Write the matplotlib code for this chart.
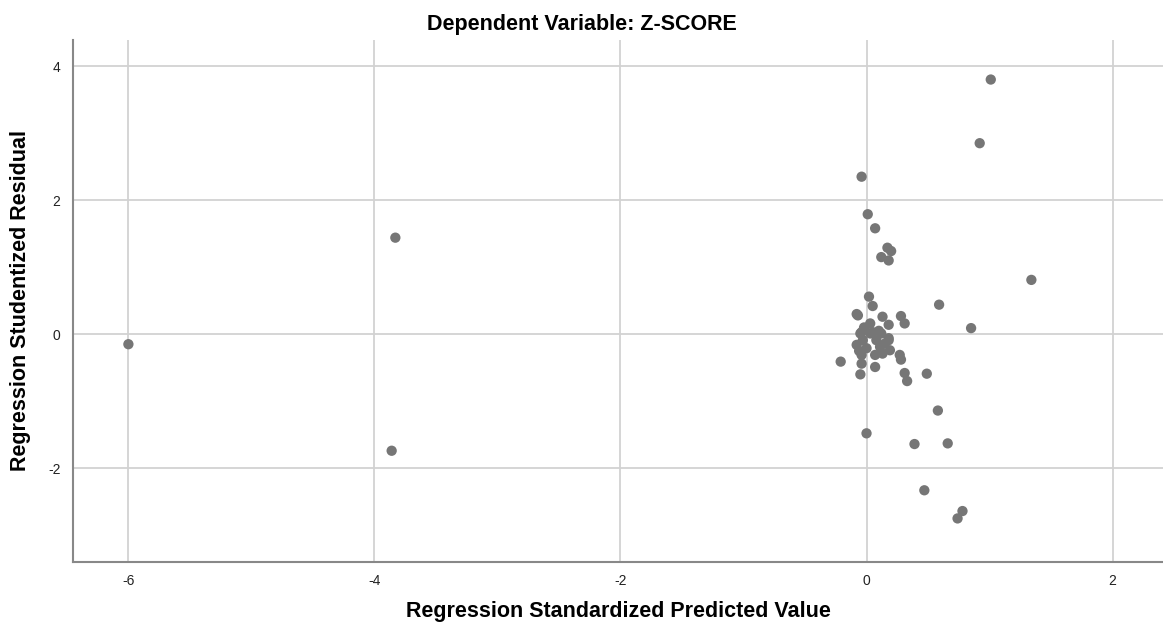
import matplotlib.pyplot as plt

plt.rcParams["font.family"] = ["Liberation Sans", "DejaVu Sans"]
plt.rcParams["axes.unicode_minus"] = False

# standardized predicted value (x) and studentized residual (y)
pred = [
    -6.00, -3.83, -3.86,
    1.01, 0.92, 1.34, 0.85, 0.59,
    -0.04, 0.01, 0.07, 0.17, 0.20, 0.12, 0.18,
    0.02, 0.05, -0.08, 0.13, 0.28, 0.31, 0.18,
    -0.21, -0.05, 0.07, 0.27, 0.28, 0.49, 0.31, 0.33,
    0.58, 0.00, 0.39, 0.66, 0.47, 0.78, 0.74,
    -0.07, 0.03, -0.04, 0.05, 0.12, -0.03, 0.08, 0.18,
    -0.08, 0.00, 0.11, 0.19, -0.04, 0.07, 0.13, -0.04,
    -0.05, 0.03, 0.18, -0.02, 0.10, 0.15, -0.06,
]
resid = [
    -0.15, 1.44, -1.74,
    3.80, 2.85, 0.81, 0.09, 0.44,
    2.35, 1.79, 1.58, 1.29, 1.24, 1.15, 1.10,
    0.56, 0.42, 0.30, 0.26, 0.27, 0.16, 0.14,
    -0.41, -0.60, -0.49, -0.31, -0.38, -0.59, -0.58, -0.70,
    -1.14, -1.48, -1.64, -1.63, -2.33, -2.64, -2.75,
    0.28, 0.16, 0.03, 0.03, 0.01, -0.09, -0.09, -0.06,
    -0.16, -0.21, -0.19, -0.24, -0.31, -0.31, -0.29, -0.44,
    0.01, 0.01, -0.09, 0.10, 0.05, -0.14, -0.25,
]

fig = plt.figure(figsize=(11.63, 6.33), dpi=100)
ax = fig.add_axes([0.0628, 0.1122, 0.9372, 0.8246])

ax.scatter(pred, resid, s=55, color="#767676", edgecolors="none", zorder=3)

ax.set_xlim(-6.45, 2.41)
ax.set_ylim(-3.40, 4.39)
ax.set_xticks([-6, -4, -2, 0, 2])
ax.set_yticks([-2, 0, 2, 4])
ax.grid(True, color="#d2d2d2", linewidth=1.3, zorder=0)
ax.set_axisbelow(True)

for side in ["top", "right"]:
    ax.spines[side].set_visible(False)
for side in ["left", "bottom"]:
    ax.spines[side].set_color("#888888")
    ax.spines[side].set_linewidth(1.5)

ax.tick_params(length=0, labelsize=10, colors="#222222", pad=9)

ax.set_xlabel("Regression Standardized Predicted Value", fontsize=15.5, fontweight="bold", labelpad=9)
ax.set_ylabel("Regression Studentized Residual", fontsize=15.5, fontweight="bold", labelpad=12)
fig.suptitle("Dependent Variable: Z-SCORE", fontsize=15.5, fontweight="bold", y=0.978)

fig.savefig("out.png", dpi=100)
